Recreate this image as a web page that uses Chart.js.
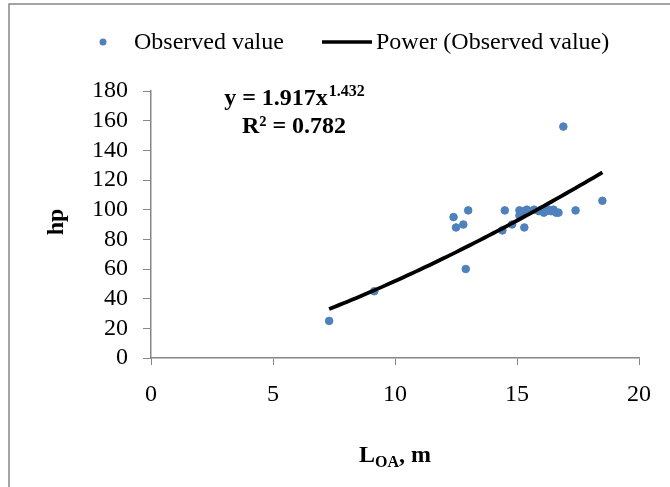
<!DOCTYPE html>
<html>
<head>
<meta charset="utf-8">
<script src="https://cdn.jsdelivr.net/npm/chart.js@4.4.1/dist/chart.umd.min.js"></script>
<style>
  html, body { margin: 0; padding: 0; background: #fff; }
  canvas { display: block; }
</style>
</head>
<body>
<canvas id="hpChart" width="670" height="487"></canvas>
<script>
// boat length overall (m) against engine power (hp)
const lengthM = [7.3, 9.15, 12.4, 12.5, 12.8, 12.9, 13.0, 14.4, 14.5, 14.8,
  15.1, 15.1, 15.2, 15.3, 15.3, 15.4, 15.5, 15.7, 15.9, 16.0,
  16.1, 16.2, 16.3, 16.4, 16.5, 16.6, 16.7, 16.9, 17.4, 18.5];
const powerHp = [25, 45, 95, 88, 90, 60, 99.5, 86, 99.5, 90,
  99.5, 96, 98, 88, 99, 100, 99, 100, 99, 100,
  98, 99, 100, 99, 100, 98, 98, 156, 99.5, 106];

// power trendline y = a * x^b
const trendA = 1.917;
const trendB = 1.432;
const trendR2 = 0.782;
const trendFrom = 7.3;
const trendTo = 18.5;

const xTicks = [0, 5, 10, 15, 20];
const yTicks = [0, 20, 40, 60, 80, 100, 120, 140, 160, 180];

const serif = '"Liberation Serif", "Times New Roman", serif';
const axisGray = '#868686';
const dotBlue = '#4F81BD';

const observed = lengthM.map((x, i) => ({ x: x, y: powerHp[i] }));
const trend = [];
for (let i = 0; i <= 60; i++) {
  const x = trendFrom + (trendTo - trendFrom) * i / 60;
  trend.push({ x: x, y: trendA * Math.pow(x, trendB) });
}

// frame, legend, equation and axis titles
const decorations = {
  id: 'decorations',
  beforeDraw(chart) {
    const c = chart.ctx;
    c.save();
    c.strokeStyle = axisGray;
    c.lineWidth = 1.5;
    c.strokeRect(9, 4, 700, 520);
    c.restore();
  },
  afterDraw(chart) {
    const c = chart.ctx;
    const area = chart.chartArea;
    c.save();
    c.fillStyle = '#000';
    c.textBaseline = 'middle';

    // legend
    c.beginPath();
    c.arc(103, 42, 3.5, 0, Math.PI * 2);
    c.fillStyle = dotBlue;
    c.fill();
    c.fillStyle = '#000';
    c.font = '24px ' + serif;
    c.textAlign = 'left';
    c.fillText('Observed value', 134, 43);
    c.beginPath();
    c.moveTo(322, 42);
    c.lineTo(372, 42);
    c.lineWidth = 3.5;
    c.strokeStyle = '#000';
    c.stroke();
    c.fillText('Power (Observed value)', 376, 43);

    // trendline equation
    c.textBaseline = 'alphabetic';
    c.font = 'bold 24px ' + serif;
    const main = 'y = ' + trendA.toFixed(3) + 'x';
    const sup = trendB.toFixed(3);
    const mainW = c.measureText(main).width;
    c.font = 'bold 16px ' + serif;
    const supW = c.measureText(sup).width;
    const eqLeft = 294 - (mainW + supW) / 2;
    c.font = 'bold 24px ' + serif;
    c.fillText(main, eqLeft, 105);
    c.font = 'bold 16px ' + serif;
    c.fillText(sup, eqLeft + mainW + 1, 96);
    c.font = 'bold 24px ' + serif;
    c.textAlign = 'center';
    c.fillText('R\u00b2 = ' + trendR2.toFixed(3), 294, 133);

    // x title with subscript
    c.textAlign = 'left';
    const cx = (area.left + area.right) / 2;
    c.font = 'bold 24px ' + serif;
    const wL = c.measureText('L').width;
    const wTail = c.measureText(', m').width;
    c.font = 'bold 16px ' + serif;
    const wSub = c.measureText('OA').width;
    let tx = cx - (wL + wSub + wTail) / 2;
    c.font = 'bold 24px ' + serif;
    c.fillText('L', tx, 462);
    tx += wL;
    c.font = 'bold 16px ' + serif;
    c.fillText('OA', tx, 467);
    tx += wSub;
    c.font = 'bold 24px ' + serif;
    c.fillText(', m', tx, 462);

    // y title
    c.translate(57, 222);
    c.rotate(-Math.PI / 2);
    c.textAlign = 'center';
    c.textBaseline = 'middle';
    c.fillText('hp', 0, 0);
    c.restore();
  }
};

new Chart(document.getElementById('hpChart'), {
  type: 'scatter',
  data: {
    datasets: [
      {
        label: 'Observed value',
        data: observed,
        backgroundColor: dotBlue,
        borderColor: dotBlue,
        pointRadius: 3.8,
        pointHoverRadius: 3.8,
        order: 2
      },
      {
        label: 'Power (Observed value)',
        type: 'line',
        data: trend,
        borderColor: '#000',
        borderWidth: 3.8,
        pointRadius: 0,
        fill: false,
        tension: 0,
        order: 1
      }
    ]
  },
  plugins: [decorations],
  options: {
    responsive: false,
    animation: false,
    layout: { padding: { left: 0, top: 91, right: 31, bottom: 0 } },
    plugins: {
      legend: { display: false },
      tooltip: { enabled: false }
    },
    scales: {
      x: {
        type: 'linear',
        min: 0,
        max: 20,
        afterBuildTicks: (s) => { s.ticks = xTicks.map(v => ({ value: v })); },
        afterFit: (s) => { s.height = 129; },
        grid: { drawOnChartArea: false, color: axisGray, tickLength: 7 },
        border: { color: axisGray, width: 1.5 },
        ticks: { color: '#000', padding: 15, autoSkip: false, maxRotation: 0, font: { family: serif, size: 24 } }
      },
      y: {
        type: 'linear',
        min: 0,
        max: 180,
        afterBuildTicks: (s) => { s.ticks = yTicks.map(v => ({ value: v })); },
        afterFit: (s) => { s.width = 151; },
        grid: { drawOnChartArea: false, color: axisGray, tickLength: 8 },
        border: { color: axisGray, width: 1.5 },
        ticks: { color: '#000', padding: 15, autoSkip: false, font: { family: serif, size: 24 } }
      }
    }
  }
});
</script>
</body>
</html>
